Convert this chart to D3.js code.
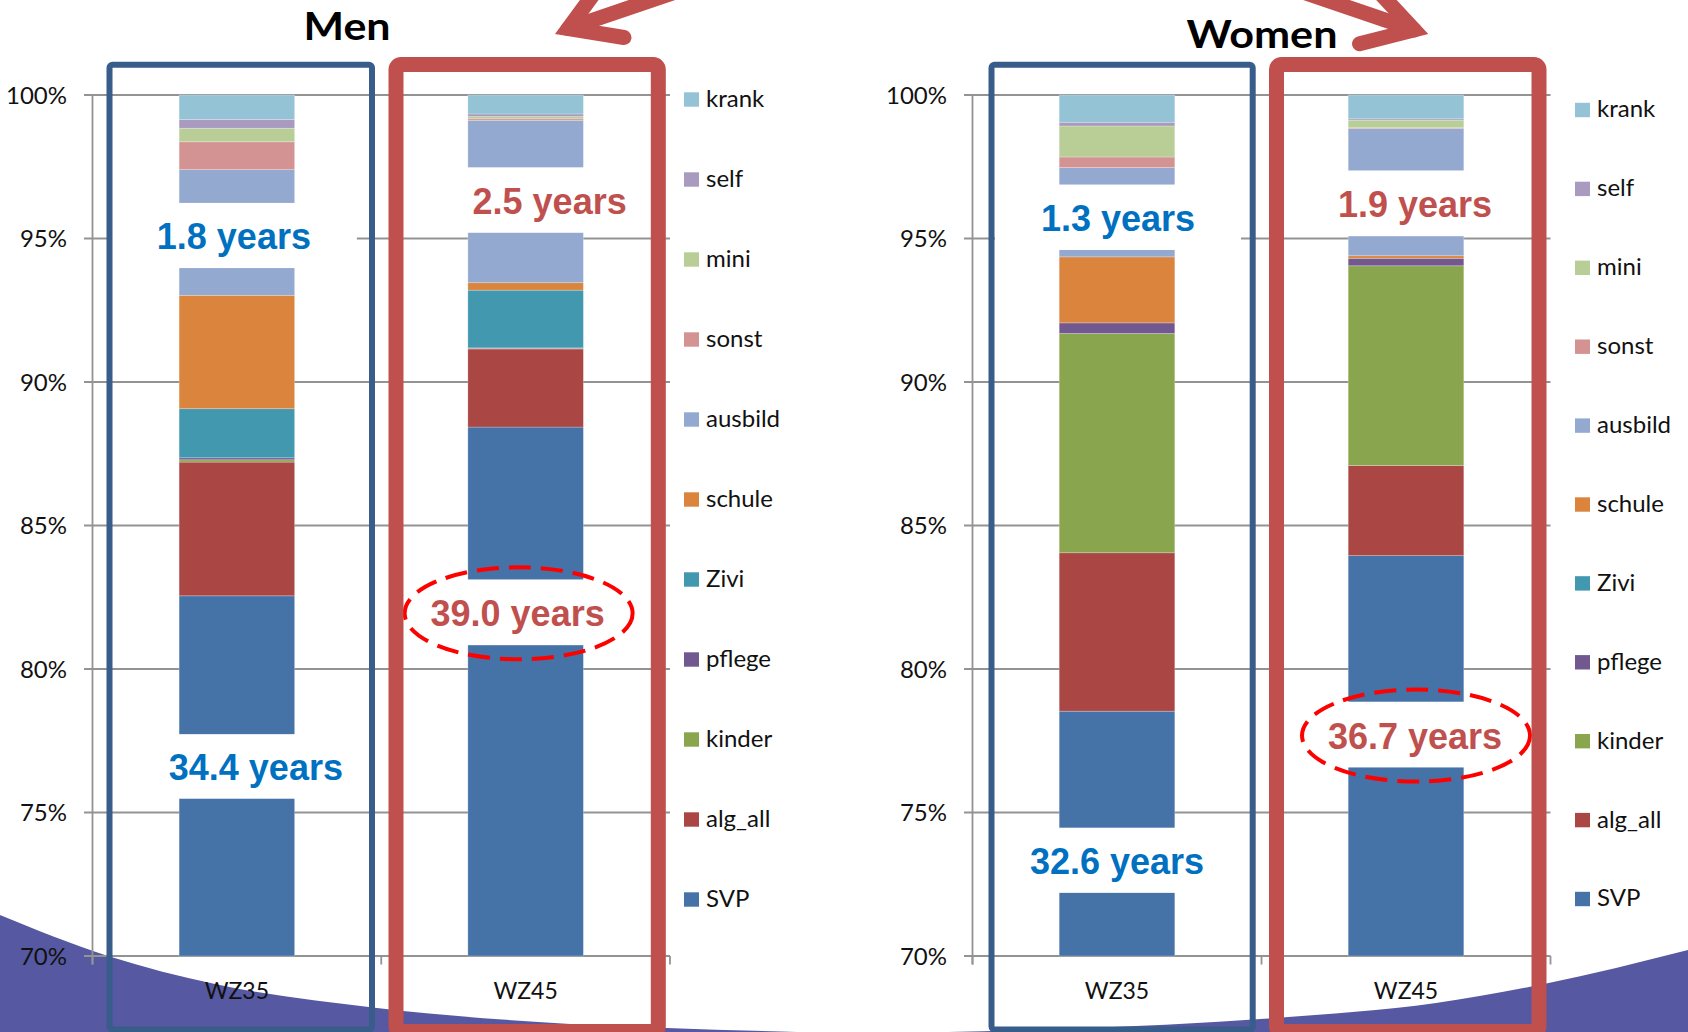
<!DOCTYPE html>
<html>
<head>
<meta charset="utf-8">
<script src="https://cdn.jsdelivr.net/npm/d3@7"></script>
<style>
  html, body { margin: 0; padding: 0; background: #ffffff; }
  svg { display: block; }
</style>
</head>
<body>
<svg id="chart" width="1688" height="1032"></svg>
<script>
// ---- data: composition of employment histories (percent of time) ----
const panels = ["Men", "Women"];
const categories = ["WZ35", "WZ45"];
const seriesNames = ["SVP", "alg_all", "kinder", "pflege", "Zivi", "schule", "ausbild", "sonst", "mini", "self", "krank"];

// one value per series, in the order of seriesNames
const menWZ35   = [82.55, 4.66, 0.08, 0.07, 1.71, 3.95, 4.38, 0.97, 0.47, 0.31, 0.85];
const menWZ45   = [88.43, 2.72, 0.02, 0.02, 2.01, 0.26, 5.65, 0.06, 0.08, 0.09, 0.66];
const womenWZ35 = [78.53, 5.52, 7.64, 0.37, 0.00, 2.30, 3.11, 0.37, 1.08, 0.13, 0.95];
const womenWZ45 = [83.95, 3.14, 6.96, 0.26, 0.00, 0.09, 4.43, 0.03, 0.26, 0.05, 0.83];

const yTicks = [70, 75, 80, 85, 90, 95, 100];

// duration call-outs and the value span of the bar they sit on
const callouts = [
  { panel: "Men",   category: "WZ35", text: "1.8 years",  from: 93.97, to: 96.24, circled: false },
  { panel: "Men",   category: "WZ35", text: "34.4 years", from: 75.48, to: 77.73, circled: false },
  { panel: "Men",   category: "WZ45", text: "2.5 years",  from: 95.20, to: 97.48, circled: false },
  { panel: "Men",   category: "WZ45", text: "39.0 years", from: 80.83, to: 83.12, circled: true  },
  { panel: "Women", category: "WZ35", text: "1.3 years",  from: 94.60, to: 96.88, circled: false },
  { panel: "Women", category: "WZ35", text: "32.6 years", from: 72.20, to: 74.47, circled: false },
  { panel: "Women", category: "WZ45", text: "1.9 years",  from: 95.08, to: 97.37, circled: false },
  { panel: "Women", category: "WZ45", text: "36.7 years", from: 76.57, to: 78.86, circled: true  }
];

// ---- styling & layout ----
const palette = {
  SVP: "#4572A7", alg_all: "#AA4643", kinder: "#89A54E", pflege: "#71588F",
  Zivi: "#4198AF", schule: "#DB843D", ausbild: "#94A9D0", sonst: "#D39392",
  mini: "#B9CE97", self: "#A89BBF", krank: "#93C3D5"
};
const categoryInk = { WZ35: "#0070C0", WZ45: "#C0504D" };
const calloutShift = [-3, 19, 24, -8, 1, 0, 9, 9];

const layout = {
  Men:   { x0: 92.5,  x1: 670,    legendX: 684,  legendY0: 99.5, legendStep: 80,
           titleX: 347,  titleY: 40, titleLen: 87,
           blue: [109.5, 372],  red: [396, 658.3] },
  Women: { x0: 972.5, x1: 1550.5, legendX: 1575, legendY0: 110,  legendStep: 78.9,
           titleX: 1262, titleY: 48, titleLen: 151,
           blue: [991.5, 1252.7], red: [1276.5, 1539] }
};
const plotTop = 95, plotBottom = 956;

const tableByPanel = {
  Men:   [menWZ35, menWZ45],
  Women: [womenWZ35, womenWZ45]
};

const svg = d3.select("#chart");
const labelFont = "Lato, 'Open Sans', 'DejaVu Sans', sans-serif";
const calloutFont = "'Liberation Sans', Arial, sans-serif";

// ---- background wave at the bottom of the slide ----
const wave = [[0, 915], [108, 956], [215, 984], [377, 1008], [538, 1022], [667, 1028], [780, 1031.5],
              [844, 1033], [1059, 1029], [1275, 1018], [1436, 1003], [1544, 984], [1688, 950]];
const waveLine = d3.line().curve(d3.curveMonotoneX);
svg.append("path")
  .attr("d", waveLine(wave) + "L1688,1040L0,1040Z")
  .attr("fill", "#5659A1");

const y = d3.scaleLinear().domain([70, 100]).range([plotBottom, plotTop]).clamp(true);

panels.forEach(panel => {
  const L = layout[panel];
  const rows = categories.map((c, i) => {
    const row = { category: c };
    seriesNames.forEach((s, j) => { row[s] = tableByPanel[panel][i][j]; });
    return row;
  });
  const stacked = d3.stack().keys(seriesNames)(rows);

  const x = d3.scaleBand().domain(categories).range([L.x0, L.x1])
    .paddingInner(0.6).paddingOuter(0.3);
  const step = x.step();

  const g = svg.append("g").attr("class", "panel-" + panel);

  // gridlines with outward ticks
  g.append("g").selectAll("line").data(yTicks).join("line")
    .attr("x1", L.x0 - 8.5).attr("x2", L.x1)
    .attr("y1", d => y(d)).attr("y2", d => y(d))
    .attr("stroke", "#939393").attr("stroke-width", 1.8);

  // value axis line and category ticks
  g.append("line")
    .attr("x1", L.x0).attr("x2", L.x0)
    .attr("y1", y(100)).attr("y2", y(70) + 8.5)
    .attr("stroke", "#939393").attr("stroke-width", 1.8);
  g.append("g").selectAll("line").data([0, 1, 2]).join("line")
    .attr("x1", i => L.x0 + i * (L.x1 - L.x0) / 2)
    .attr("x2", i => L.x0 + i * (L.x1 - L.x0) / 2)
    .attr("y1", y(70)).attr("y2", y(70) + 8.5)
    .attr("stroke", "#939393").attr("stroke-width", 1.8);

  // tick labels
  g.append("g").selectAll("text").data(yTicks).join("text")
    .attr("x", L.x0 - 25.5).attr("y", d => y(d) + 8.5)
    .attr("text-anchor", "end")
    .attr("font-family", labelFont).attr("font-size", 24).attr("fill", "#111")
    .text(d => d + "%");

  // stacked bars
  g.append("g").selectAll("g").data(stacked).join("g")
    .attr("fill", d => palette[d.key])
    .selectAll("rect").data(d => d).join("rect")
    .attr("x", d => x(d.data.category))
    .attr("width", x.bandwidth())
    .attr("y", d => y(d[1]))
    .attr("height", d => Math.max(0, y(d[0]) - y(d[1])))
    .attr("stroke", "rgba(255,255,255,0.3)").attr("stroke-width", 0.8);

  // category labels
  g.append("g").selectAll("text").data(categories).join("text")
    .attr("x", d => x(d) + x.bandwidth() / 2).attr("y", 999)
    .attr("text-anchor", "middle")
    .attr("font-family", labelFont).attr("font-size", 23).attr("fill", "#111")
    .text(d => d);

  // legend, top entry is the top of the stack
  const legendKeys = seriesNames.slice().reverse();
  const lg = g.append("g").selectAll("g").data(legendKeys).join("g")
    .attr("transform", (d, i) => `translate(${L.legendX},${L.legendY0 + i * L.legendStep})`);
  lg.append("rect").attr("x", 0).attr("y", -7.2).attr("width", 15).attr("height", 14.4)
    .attr("fill", d => palette[d]);
  lg.append("text").attr("x", 22).attr("y", 7.4)
    .attr("font-family", labelFont).attr("font-size", 24).attr("fill", "#111")
    .text(d => d);

  // duration call-outs on white boxes
  const items = callouts.map((c, i) => ({ ...c, shift: calloutShift[i] }))
    .filter(c => c.panel === panel);
  const cg = g.append("g").selectAll("g").data(items).join("g");
  cg.each(function (c) {
    const cx = x(c.category) + x.bandwidth() / 2 + c.shift;
    const top = y(c.to), bot = y(c.from);
    const mid = (top + bot) / 2;
    const sel = d3.select(this);
    sel.append("rect")
      .attr("x", cx - 123).attr("width", 246)
      .attr("y", top).attr("height", bot - top)
      .attr("fill", "#ffffff");
    sel.append("text")
      .attr("x", cx).attr("y", mid + 14)
      .attr("text-anchor", "middle")
      .attr("font-family", calloutFont).attr("font-weight", "bold").attr("font-size", 36)
      .attr("fill", categoryInk[c.category])
      .text(c.text);
    if (c.circled) {
      sel.append("ellipse")
        .attr("cx", cx + 1).attr("cy", mid + 1)
        .attr("rx", 114).attr("ry", 46)
        .attr("fill", "none").attr("stroke", "#FF0000")
        .attr("stroke-width", 4).attr("stroke-dasharray", "22,10");
    }
  });

  // framing of the two cohorts
  g.append("rect")
    .attr("x", L.blue[0]).attr("y", 64.7)
    .attr("width", L.blue[1] - L.blue[0]).attr("height", 1029.5 - 64.7)
    .attr("rx", 3)
    .attr("fill", "none").attr("stroke", "#385D8A").attr("stroke-width", 6);
  g.append("rect")
    .attr("x", L.red[0]).attr("y", 64.5)
    .attr("width", L.red[1] - L.red[0]).attr("height", 1031.5 - 64.5)
    .attr("rx", 5)
    .attr("fill", "none").attr("stroke", "#C0504D").attr("stroke-width", 15);

  // panel title
  g.append("text")
    .attr("x", L.titleX).attr("y", L.titleY)
    .attr("text-anchor", "middle")
    .attr("font-family", labelFont).attr("font-weight", "bold").attr("font-size", 39)
    .attr("textLength", L.titleLen).attr("lengthAdjust", "spacingAndGlyphs")
    .attr("fill", "#000")
    .text(panel);
});

// ---- open arrows pointing at the two titles ----
function openArrow(vx, vy, armA, armB, shaft) {
  const rad = a => a * Math.PI / 180;
  const pt = (a, len) => [vx + len * Math.cos(rad(a)), vy + len * Math.sin(rad(a))];
  const a = pt(armA[0], armA[1]), b = pt(armB[0], armB[1]), s = pt(shaft[0], shaft[1]);
  const grp = svg.append("g").attr("fill", "none").attr("stroke", "#C0504D")
    .attr("stroke-width", 15).attr("stroke-linecap", "round");
  grp.append("path").attr("d", `M${s[0]},${s[1]}L${vx},${vy}`);
  grp.append("path").attr("d", `M${a[0]},${a[1]}L${vx},${vy}L${b[0]},${b[1]}`)
    .attr("stroke-linejoin", "miter").attr("stroke-miterlimit", 10);
}
openArrow(568.3, 28.5, [-53.7, 50], [9.2, 56.4], [-18.8, 160]);
openArrow(1414.2, 29.9, [227.1, 50], [165.7, 56.4], [198.8, 160]);
</script>
</body>
</html>
